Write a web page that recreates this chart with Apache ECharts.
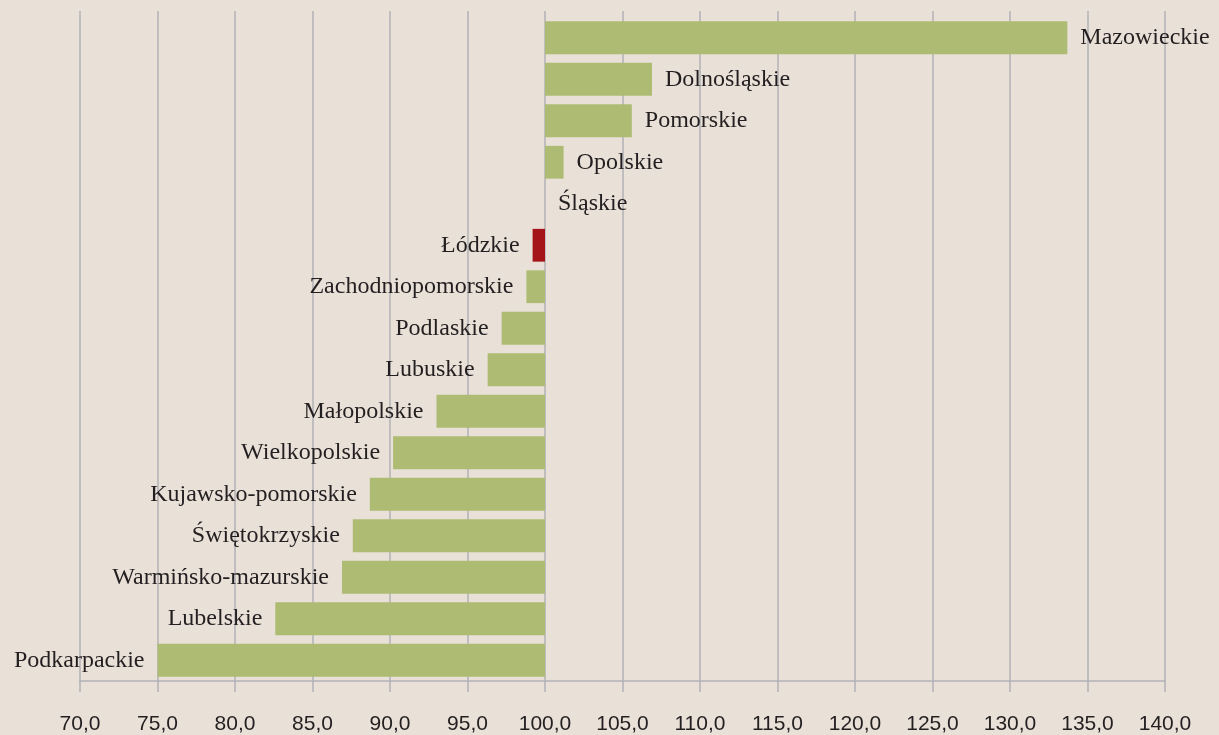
<!DOCTYPE html>
<html>
<head>
<meta charset="utf-8">
<script src="https://cdn.jsdelivr.net/npm/echarts@6/dist/echarts.min.js"></script>
<style>
  html, body { margin: 0; padding: 0; background: #E9E1D8; }
  #chart { width: 1219px; height: 735px; }
</style>
</head>
<body>
<div id="chart"></div>
<script>
// Regions (top to bottom) and index values (base = 100)
const regions = [
  'Mazowieckie', 'Dolnośląskie', 'Pomorskie', 'Opolskie', 'Śląskie', 'Łódzkie',
  'Zachodniopomorskie', 'Podlaskie', 'Lubuskie', 'Małopolskie', 'Wielkopolskie',
  'Kujawsko-pomorskie', 'Świętokrzyskie', 'Warmińsko-mazurskie', 'Lubelskie', 'Podkarpackie'
];
const values = [
  133.7, 106.9, 105.6, 101.2, 100.0, 99.2,
  98.8, 97.2, 96.3, 93.0, 90.2,
  88.7, 87.6, 86.9, 82.6, 75.0
];
const highlighted = ['Łódzkie'];
const baseValue = 100;
const axisMin = 70, axisMax = 140, axisStep = 5;

const GREEN = '#AEBB73';
const RED = '#A51419';
const GRID_COLOR = '#B1B1B6';
const TEXT = '#231F20';

const fmt = v => (v + baseValue).toFixed(1).replace('.', ',');

const barData = regions.map((name, i) => {
  const d = +(values[i] - baseValue).toFixed(2);
  return {
    name: name,
    value: d,
    itemStyle: { color: highlighted.includes(name) ? RED : GREEN },
    label: { position: d < 0 ? 'left' : 'right' }
  };
});

const chart = echarts.init(document.getElementById('chart'), null, { renderer: 'canvas' });
const gridSide = { left: 80, right: 54 };
chart.setOption({
  backgroundColor: '#E9E1D8',
  animation: false,
  grid: [
    Object.assign({ top: 17, bottom: 53 }, gridSide),
    Object.assign({ top: 11, bottom: 53 }, gridSide)
  ],
  xAxis: [
    {
      gridIndex: 0,
      type: 'value',
      min: axisMin - baseValue,
      max: axisMax - baseValue,
      interval: axisStep,
      splitLine: { show: false },
      axisLine: { show: true, lineStyle: { color: GRID_COLOR, width: 1.5 } },
      axisTick: { show: true, length: 11, inside: false, lineStyle: { color: GRID_COLOR, width: 1.5 } },
      axisLabel: {
        formatter: fmt,
        fontFamily: 'Liberation Sans, Arial, sans-serif',
        fontSize: 21,
        color: TEXT,
        margin: 33
      }
    },
    {
      gridIndex: 1,
      type: 'value',
      min: axisMin - baseValue,
      max: axisMax - baseValue,
      interval: axisStep,
      axisLine: { show: false },
      axisTick: { show: false },
      axisLabel: { show: false },
      splitLine: { show: true, lineStyle: { color: GRID_COLOR, width: 1.5 } }
    }
  ],
  yAxis: [
    {
      gridIndex: 0,
      type: 'category',
      data: regions,
      inverse: true,
      axisLine: { show: false },
      axisTick: { show: false },
      axisLabel: { show: false },
      splitLine: { show: false }
    },
    {
      gridIndex: 1,
      type: 'value',
      show: false
    }
  ],
  series: [
    {
      type: 'bar',
      xAxisIndex: 0,
      yAxisIndex: 0,
      data: barData,
      barCategoryGap: '21%',
      z: 3,
      label: {
        show: true,
        formatter: '{b}',
        distance: 13,
        fontFamily: 'Liberation Serif, Times New Roman, serif',
        fontSize: 24,
        color: TEXT
      }
    }
  ]
});
</script>
</body>
</html>
